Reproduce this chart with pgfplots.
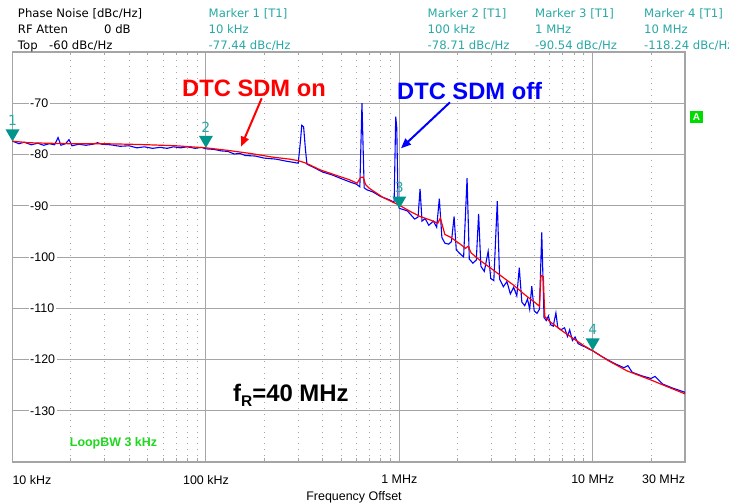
\documentclass[border=0pt]{standalone}
\usepackage{pgfplots}
\pgfplotsset{compat=1.18}
\usepackage{fontspec}
\setmainfont{Liberation Sans}
\newfontfamily\hdrfont{DejaVu Sans}
\usetikzlibrary{arrows.meta}

\definecolor{mteal}{RGB}{0,150,140}
\definecolor{hteal}{RGB}{40,168,165}
\definecolor{gridc}{RGB}{165,165,165}
\definecolor{lgreen}{RGB}{30,215,30}
\definecolor{agreen}{RGB}{0,220,0}

\pgfdeclareplotmark{mkr}{%
 \pgfpathmoveto{\pgfpoint{0bp}{0bp}}%
 \pgfpathlineto{\pgfpoint{-7bp}{12bp}}%
 \pgfpathlineto{\pgfpoint{7bp}{12bp}}%
 \pgfpathclose\pgfusepathqfill}

\newcommand{\hf}{\hdrfont\fontsize{11.7}{13}\selectfont}

\begin{document}
\begin{tikzpicture}
\useasboundingbox (0,0) rectangle (729bp,504bp);
\begin{axis}[
 at={(12.5bp,42bp)}, anchor=south west,
 scale only axis, width=672.5bp, height=410bp,
 xmode=log, xmin=1e4, xmax=3e7, ymin=-140, ymax=-60,
 clip=false,
 axis line style={gridc, line width=1.3bp},
 xtick={1e4,1e5,1e6,1e7,3e7},
 xticklabels={\rlap{10 kHz},100 kHz,1 MHz,10 MHz,\llap{30 MHz}},
 minor xtick={2e4,3e4,4e4,5e4,6e4,7e4,8e4,9e4,2e5,3e5,4e5,5e5,6e5,7e5,8e5,9e5,2e6,3e6,4e6,5e6,6e6,7e6,8e6,9e6,2e7},
 ytick={-130,-120,-110,-100,-90,-80,-70},
 yticklabels={-130,-120,-110,-100,-90,-80,-70},
 grid=both,
 major grid style={gridc, line width=0.9bp},
 minor grid style={gridc, line width=0.9bp, dash pattern=on 0.9bp off 5bp},
 tick align=inside,
 major tick length=0pt,
 minor tick length=3.5bp,
 tick style={gridc, line width=0.8bp},
 xticklabel style={font=\fontsize{12.5}{14}\selectfont, yshift=-9.5bp},
 yticklabel style={font=\fontsize{12.5}{14}\selectfont, anchor=west, xshift=16bp, fill=white, inner sep=1.5bp},
]
% DTC SDM off (blue)
\addplot[blue, line width=1.1bp] coordinates {
(1e4,-77.4) (1.08e4,-77.9) (1.15e4,-77.6) (1.25e4,-78.1) (1.35e4,-77.8) (1.45e4,-78.2) (1.55e4,-77.9) (1.65e4,-78.1) (1.72e4,-76.7) (1.78e4,-78.2) (1.88e4,-77.9) (1.96e4,-77.1) (2.03e4,-78.3) (2.2e4,-78.0) (2.4e4,-78.2) (2.6e4,-78.0) (2.75e4,-77.7) (2.9e4,-78.0) (3.2e4,-78.1) (3.6e4,-78.4) (4.0e4,-78.3) (4.4e4,-78.7) (4.8e4,-78.5) (5.3e4,-78.8) (5.8e4,-78.6) (6.3e4,-78.8) (6.8e4,-78.5) (7.4e4,-78.7) (8e4,-78.5) (8.8e4,-78.8) (9.5e4,-78.6)
(1e5,-78.9) (1.1e5,-79.0) (1.2e5,-79.3) (1.3e5,-79.4) (1.4e5,-79.9) (1.5e5,-79.8) (1.6e5,-80.2) (1.8e5,-80.3) (2e5,-80.7) (2.3e5,-80.9) (2.6e5,-81.3) (2.9e5,-81.6) (3.0e5,-81.7) (3.08e5,-77.5) (3.13e5,-74.3) (3.2e5,-74.6) (3.27e5,-79) (3.33e5,-81.9) (3.6e5,-82.5) (4e5,-83.4) (4.5e5,-84.0) (5e5,-84.7) (5.5e5,-85.3) (6.0e5,-85.8) (6.25e5,-86.3) (6.41e5,-70.0) (6.58e5,-86.5) (6.8e5,-86.9) (7.3e5,-87.3) (8e5,-88.2) (8.7e5,-88.7) (9.4e5,-89.3) (9.58e5,-72.6) (9.7e5,-74.8) (9.85e5,-89.6)
(1e6,-90.5) (1.1e6,-91.0) (1.2e6,-92.6) (1.25e6,-92.2) (1.28e6,-86.7) (1.31e6,-93.0) (1.36e6,-92.5) (1.42e6,-93.8) (1.5e6,-93.0) (1.56e6,-94.2) (1.61e6,-88.6) (1.66e6,-96.2) (1.72e6,-97.3) (1.8e6,-97.5) (1.86e6,-97.0) (1.92e6,-92.1) (1.97e6,-98.6) (2.05e6,-99.3) (2.15e6,-100.0) (2.24e6,-84.6) (2.3e6,-100.4) (2.4e6,-101.2) (2.5e6,-100.6) (2.57e6,-91.6) (2.64e6,-101.8) (2.75e6,-102.8) (2.88e6,-98.9) (2.97e6,-104.2) (3.08e6,-104.6) (3.21e6,-89.1) (3.3e6,-104.3) (3.45e6,-105.8) (3.6e6,-104.8) (3.75e6,-107.2) (3.9e6,-105.9) (4.05e6,-107.6) (4.17e6,-102.1) (4.3e6,-108.8) (4.45e6,-109.5) (4.6e6,-108.2) (4.72e6,-110.2) (4.84e6,-105.7) (4.98e6,-110.5) (5.15e6,-111.0) (5.3e6,-110.2) (5.45e6,-95.2) (5.6e6,-111.8) (5.75e6,-112.4) (5.9e6,-111.5) (6.05e6,-113.2) (6.25e6,-113.5) (6.45e6,-110.9) (6.6e6,-113.8) (6.85e6,-114.2) (7.15e6,-113.8) (7.4e6,-115.5) (7.6e6,-114.2) (7.85e6,-116.3) (8.1e6,-115.6) (8.4e6,-116.9) (8.8e6,-117.3) (9.2e6,-117.6) (9.6e6,-118.0)
(1e7,-118.3) (1.1e7,-119.3) (1.2e7,-120.1) (1.3e7,-120.8) (1.45e7,-121.6) (1.52e7,-121.2) (1.6e7,-122.5) (1.8e7,-123.2) (2.0e7,-123.7) (2.1e7,-123.3) (2.3e7,-124.8) (2.6e7,-125.6) (3e7,-126.4)
};
% DTC SDM on (red)
\addplot[red, line width=1.2bp] coordinates {
(1e4,-77.4) (1.2e4,-77.7) (1.5e4,-77.8) (2e4,-77.9) (3e4,-77.9) (4e4,-78.0) (5e4,-78.1) (7e4,-78.3) (1e5,-78.7) (1.3e5,-79.2) (1.7e5,-79.8) (2.2e5,-80.5) (2.7e5,-80.9) (3.0e5,-81.2) (3.3e5,-81.7) (3.9e5,-83.0) (4.5e5,-83.8) (5.5e5,-84.9) (6.05e5,-85.6) (6.3e5,-84.5) (6.5e5,-84.4) (6.7e5,-85.9) (7e5,-86.6) (8.25e5,-88.4) (1e6,-89.9) (1.15e6,-91.2) (1.28e6,-92.1) (1.45e6,-92.8) (1.58e6,-93.4) (1.63e6,-92.4) (1.72e6,-95.6) (1.85e6,-96.2) (2.05e6,-97.4) (2.2e6,-98.3) (2.27e6,-97.9) (2.35e6,-99.2) (2.6e6,-100.6) (3.0e6,-102.3) (3.2e6,-103.1) (3.5e6,-104.2) (3.9e6,-105.5) (4.5e6,-107.5) (5.0e6,-108.8) (5.3e6,-109.6) (5.4e6,-103.6) (5.55e6,-103.8) (5.65e6,-111.6) (6.0e6,-112.6) (7.0e6,-114.5) (8.0e6,-116.0) (9.0e6,-117.3) (1e7,-118.3) (1.2e7,-120.2) (1.5e7,-122.2) (2e7,-124.0) (2.5e7,-125.5) (3e7,-126.7)
};
% markers
\addplot[only marks, mark=mkr, color=mteal, point meta=explicit symbolic, nodes near coords,
 every node near coord/.append style={anchor=center, yshift=21bp, font=\hdrfont\fontsize{14}{16}\selectfont, text=hteal}]
 coordinates {(1e4,-77.44) [1] (1e5,-78.71) [2] (1e6,-90.54) [3] (1e7,-118.24) [4]};
\end{axis}

% header
\begin{scope}[every node/.style={inner sep=0pt, anchor=base west, font=\hf}]
\node at (17.8bp,486.7bp) {Phase Noise [dBc/Hz]};
\node at (17.8bp,470bp) {RF Atten};
\node at (104bp,470bp) {0 dB};
\node at (17.8bp,454.5bp) {Top};
\node at (49bp,454.5bp) {-60 dBc/Hz};
\node[text=hteal] at (208.5bp,486.7bp) {Marker 1 [T1]};
\node[text=hteal] at (208.5bp,470bp) {10 kHz};
\node[text=hteal] at (208.5bp,454.5bp) {-77.44 dBc/Hz};
\node[text=hteal] at (427.5bp,486.7bp) {Marker 2 [T1]};
\node[text=hteal] at (427.5bp,470bp) {100 kHz};
\node[text=hteal] at (427.5bp,454.5bp) {-78.71 dBc/Hz};
\node[text=hteal] at (535bp,486.7bp) {Marker 3 [T1]};
\node[text=hteal] at (535bp,470bp) {1 MHz};
\node[text=hteal] at (535bp,454.5bp) {-90.54 dBc/Hz};
\node[text=hteal] at (644bp,486.7bp) {Marker 4 [T1]};
\node[text=hteal] at (644bp,470bp) {10 MHz};
\node[text=hteal] at (644bp,454.5bp) {-118.24 dBc/Hz};
\end{scope}

% annotations
\node[anchor=base, inner sep=0pt, text=red, font=\bfseries\fontsize{23.8}{26}\selectfont] at (254bp,407.3bp) {DTC SDM on};
\node[anchor=base west, inner sep=0pt, text=blue, font=\bfseries\fontsize{23.8}{26}\selectfont] at (397bp,404.7bp) {DTC SDM off};
\draw[red, line width=2bp, -{Triangle[length=10bp,width=8bp]}] (261.7bp,405.7bp) -- (241bp,357.3bp);
\draw[blue, line width=2bp, -{Triangle[length=10bp,width=8bp]}] (450bp,401.7bp) -- (401bp,355.7bp);
\node[anchor=base west, inner sep=0pt, font=\bfseries\fontsize{24}{26}\selectfont] at (233bp,102.3bp) {f\raisebox{-0.22em}{\fontsize{15.5}{16}\selectfont R}=40 MHz};
\node[anchor=center, inner sep=0pt, text=lgreen, font=\bfseries\fontsize{12.5}{14}\selectfont] at (113.5bp,61bp) {LoopBW 3 kHz};
\node[anchor=center, fill=agreen, text=white, inner sep=0pt, minimum width=13bp, minimum height=12bp, font=\bfseries\fontsize{10}{12}\selectfont] at (696.5bp,387bp) {A};
\node[anchor=base, inner sep=0pt, font=\fontsize{12.5}{14}\selectfont] at (354bp,3.5bp) {Frequency Offset};
\end{tikzpicture}
\end{document}
